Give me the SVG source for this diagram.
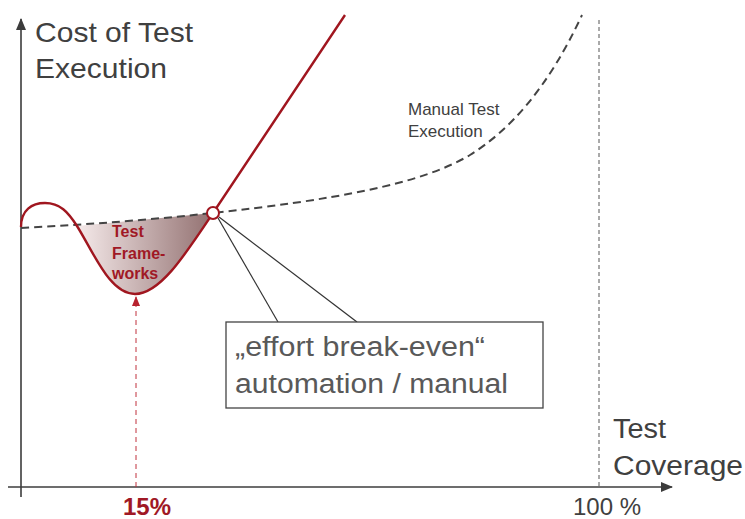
<svg xmlns="http://www.w3.org/2000/svg" width="745" height="519" viewBox="0 0 745 519">
<style>
.axis{stroke:#3c3c3c;stroke-width:1.6;fill:none}
.lbl{font-family:"Liberation Sans",Arial,sans-serif;fill:#404040}
.red{fill:#a01825;font-family:"Liberation Sans",Arial,sans-serif;font-weight:bold}
.call{font-family:"Liberation Sans",Arial,sans-serif;fill:#595959;font-size:27px}
</style>
<defs>
<linearGradient id="shade" gradientUnits="userSpaceOnUse" x1="77" y1="0" x2="213" y2="0">
<stop offset="0" stop-color="#f5eaea"/>
<stop offset="1" stop-color="#927070"/>
</linearGradient>
<marker id="arrAxis" viewBox="0 0 12 10" refX="11" refY="5" markerWidth="12" markerHeight="10" markerUnits="userSpaceOnUse" orient="auto">
<path d="M0,0 L12,5 L0,10 Z" fill="#3c3c3c"/>
</marker>
<marker id="arrRed" viewBox="0 0 10 8" refX="9" refY="4" markerWidth="10" markerHeight="8" markerUnits="userSpaceOnUse" orient="auto">
<path d="M0,0 L10,4 L0,8 Z" fill="#b8222e"/>
</marker>
</defs>
<rect width="745" height="519" fill="#ffffff"/>

<g id="axes">
<line class="axis" x1="21" y1="497" x2="21" y2="19" marker-end="url(#arrAxis)"/>
<line class="axis" x1="8" y1="487" x2="672" y2="487" marker-end="url(#arrAxis)"/>
<line x1="599" y1="20" x2="599" y2="487" stroke="#555" stroke-width="1" stroke-dasharray="4,3"/>
</g>

<g id="framework-area">
<path d="M77,226 C95,255 110,294 135,294 C160,294 185,255 213,213 L77,226 Z" fill="url(#shade)"/>
</g>

<g id="manual-curve">
<path d="M21,228 Q120,223 213,213 C330,200 420,185 470,155 C510,130 548,88 582,15" fill="none" stroke="#444" stroke-width="2" stroke-dasharray="8,5"/>
</g>

<g id="automation-curve">
<path d="M21,227 C21,210 32,203 45,203 C60,203 68,212 77,226 C95,255 110,294 135,294 C160,294 185,255 213,213 L345,15" fill="none" stroke="#a0161f" stroke-width="2.4"/>
</g>

<g id="connectors">
<line x1="136" y1="487" x2="136" y2="297" stroke="#c0303c" stroke-width="1" stroke-dasharray="5,4" marker-end="url(#arrRed)"/>
<line x1="218" y1="218" x2="278" y2="322" stroke="#333" stroke-width="1.2"/>
<line x1="219" y1="217" x2="357" y2="322" stroke="#333" stroke-width="1.2"/>
</g>

<g id="break-even-point">
<circle cx="213" cy="213" r="6" fill="#fff" stroke="#a0161f" stroke-width="2"/>
</g>

<g id="callout">
<rect x="226" y="322" width="317" height="86" fill="#fff" stroke="#444" stroke-width="1.3"/>
<text class="call" x="235" y="356" textLength="250" lengthAdjust="spacingAndGlyphs">„effort break-even“</text>
<text class="call" x="235" y="393" textLength="273" lengthAdjust="spacingAndGlyphs">automation / manual</text>
</g>

<g id="y-label">
<text class="lbl" x="35" y="42" font-size="28" textLength="158" lengthAdjust="spacingAndGlyphs">Cost of Test</text>
<text class="lbl" x="35" y="78" font-size="28" textLength="132" lengthAdjust="spacingAndGlyphs">Execution</text>
</g>

<g id="x-label">
<text class="lbl" x="613" y="438" font-size="27" textLength="53" lengthAdjust="spacingAndGlyphs">Test</text>
<text class="lbl" x="613" y="475" font-size="27" textLength="130" lengthAdjust="spacingAndGlyphs">Coverage</text>
</g>

<g id="manual-label">
<text class="lbl" x="408" y="115" font-size="17">Manual Test</text>
<text class="lbl" x="408" y="137" font-size="17">Execution</text>
</g>

<g id="framework-label">
<text class="red" x="112" y="237" font-size="16">Test</text>
<text class="red" x="112" y="259" font-size="16">Frame-</text>
<text class="red" x="112" y="279" font-size="16">works</text>
</g>

<g id="ticks">
<text class="red" x="123" y="515" font-size="24">15%</text>
<text class="lbl" x="573" y="515" font-size="24">100 %</text>
</g>
</svg>
